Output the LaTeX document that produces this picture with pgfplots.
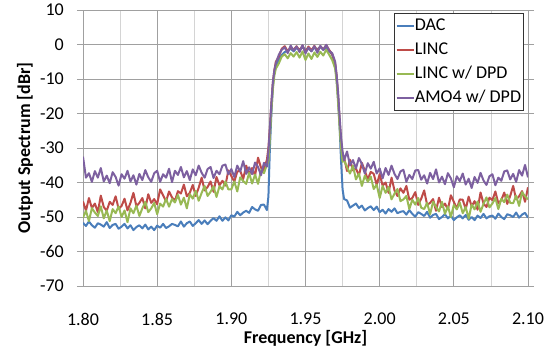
\documentclass[border=0pt]{standalone}
\usepackage{fontspec}
\setmainfont{Carlito}
\usepackage{pgfplots}
\pgfplotsset{compat=1.18}
\usepackage{pgfplotstable}
\definecolor{dacblue}{HTML}{4A7EBB}
\definecolor{lincred}{HTML}{BE4B48}
\definecolor{dpdgreen}{HTML}{98B954}
\definecolor{amopurple}{HTML}{7D60A0}
\definecolor{gridmaj}{HTML}{A0A0A0}
\definecolor{gridmin}{HTML}{D4D4D4}

\pgfplotstableread{
x dac linc dpd amo
1.800 -51.7 -45.5 -50.2 -32.5
1.802 -52.6 -48.2 -48.2 -38.6
1.804 -51.3 -44.5 -51.2 -37.3
1.806 -52.4 -47.4 -47.4 -39.8
1.808 -53.1 -46.1 -48.7 -36.7
1.810 -51.8 -48.6 -49.7 -38.6
1.812 -52.2 -43.8 -46.9 -35.8
1.814 -52.8 -47.1 -50.4 -39.7
1.816 -51.5 -48.2 -48.1 -38.0
1.818 -53.2 -45.6 -51.2 -40.2
1.820 -52.3 -46.5 -47.7 -37.0
1.822 -52.0 -44.0 -48.9 -38.4
1.824 -53.4 -47.6 -46.9 -40.9
1.826 -52.8 -46.8 -50.0 -37.6
1.828 -52.0 -44.7 -48.1 -38.9
1.830 -53.3 -48.1 -51.5 -36.6
1.832 -52.4 -45.9 -47.5 -39.7
1.834 -53.8 -43.0 -48.9 -37.9
1.836 -52.9 -46.9 -46.7 -40.6
1.838 -52.4 -45.9 -49.7 -37.5
1.840 -53.3 -44.5 -47.5 -39.3
1.842 -52.2 -47.5 -45.6 -36.4
1.844 -53.6 -43.4 -48.6 -38.5
1.846 -52.8 -45.9 -47.5 -39.8
1.848 -53.8 -44.8 -45.9 -37.3
1.850 -52.5 -46.3 -49.2 -36.6
1.852 -53.1 -42.0 -46.1 -39.8
1.854 -52.0 -43.7 -47.0 -37.6
1.856 -53.2 -45.5 -44.7 -38.6
1.858 -52.7 -42.6 -47.0 -36.0
1.860 -52.0 -44.3 -44.8 -39.9
1.862 -52.3 -45.3 -45.8 -36.6
1.864 -52.7 -42.5 -43.6 -37.8
1.866 -51.3 -43.2 -46.4 -35.5
1.868 -52.8 -40.6 -44.4 -38.5
1.870 -51.8 -44.0 -47.5 -36.7
1.872 -51.3 -43.0 -43.4 -39.3
1.874 -52.6 -40.7 -44.7 -36.2
1.876 -51.8 -43.9 -42.4 -37.9
1.878 -50.9 -41.5 -45.3 -35.1
1.880 -52.0 -38.6 -43.0 -37.2
1.882 -51.0 -42.3 -41.0 -38.6
1.884 -52.1 -41.3 -43.9 -36.1
1.886 -51.1 -39.7 -42.7 -35.5
1.888 -50.3 -42.7 -41.1 -38.7
1.890 -51.1 -38.4 -44.2 -36.6
1.892 -49.8 -40.8 -41.1 -37.6
1.894 -51.1 -39.5 -42.0 -35.1
1.896 -50.1 -40.9 -39.7 -34.8
1.898 -51.0 -36.5 -42.0 -37.6
1.900 -49.5 -38.1 -42.0 -36.1
1.902 -49.9 -39.8 -39.7 -38.4
1.904 -48.5 -36.8 -42.6 -35.1
1.906 -49.5 -36.6 -38.5 -36.8
1.908 -48.7 -39.0 -39.6 -33.8
1.910 -48.2 -35.1 -40.4 -37.5
1.912 -48.8 -37.6 -37.2 -35.6
1.914 -47.1 -35.8 -40.3 -37.6
1.916 -47.8 -38.0 -37.7 -34.2
1.918 -48.2 -32.8 -40.4 -35.5
1.920 -46.5 -35.7 -36.4 -37.9
1.922 -46.4 -36.4 -37.3 -34.3
1.924 -48.0 -33.4 -34.8 -35.4
1.925 -44.0 -30.0 -34.0 -31.0
1.926 -30.0 -24.0 -27.0 -24.0
1.927 -20.0 -17.0 -19.0 -17.0
1.928 -12.0 -11.0 -13.0 -11.0
1.929 -8.0 -7.5 -9.0 -7.5
1.930 -6.5 -5.0 -7.0 -5.5
1.932 -4.5 -3.5 -5.5 -3.0
1.934 -3.0 -1.2 -3.5 -1.5
1.936 -2.2 -0.5 -2.8 -0.8
1.938 -1.8 -2.0 -4.0 -2.5
1.940 -1.2 -0.8 -2.5 -0.3
1.942 -2.0 -1.5 -3.5 -1.8
1.944 -1.0 -0.5 -2.2 -0.6
1.946 -1.5 -1.8 -3.8 -2.2
1.948 -0.8 -0.3 -2.0 -0.2
1.950 -1.6 -2.2 -4.5 -2.6
1.952 -1.1 -0.6 -2.6 -0.9
1.954 -1.9 -1.7 -4.2 -2.0
1.956 -0.9 -0.4 -2.3 -0.5
1.958 -1.4 -1.9 -3.6 -2.4
1.960 -0.7 -0.5 -2.1 -0.4
1.962 -1.5 -1.4 -3.2 -1.6
1.964 -1.0 -0.2 -1.5 -0.1
1.966 -1.8 -1.6 -3.0 -1.9
1.968 -3.0 -2.8 -4.5 -2.5
1.970 -6.0 -5.5 -7.0 -5.0
1.971 -10.0 -9.0 -11.0 -9.0
1.972 -16.0 -15.0 -17.0 -14.0
1.973 -24.0 -22.0 -24.0 -21.0
1.974 -34.0 -28.0 -30.0 -27.0
1.975 -42.0 -33.0 -34.0 -31.0
1.976 -44.8 -32.7 -33.5 -33.6
1.978 -45.2 -36.7 -35.6 -31.0
1.980 -47.3 -33.4 -37.4 -35.0
1.982 -46.7 -36.5 -35.1 -33.5
1.984 -46.1 -35.9 -39.1 -35.9
1.986 -47.4 -38.0 -37.4 -32.9
1.988 -46.7 -34.3 -41.0 -34.6
1.990 -48.1 -36.6 -38.0 -37.4
1.992 -47.4 -39.1 -39.8 -34.4
1.994 -46.9 -36.9 -38.3 -36.0
1.996 -48.0 -37.5 -41.9 -34.0
1.998 -47.0 -40.7 -40.6 -37.4
2.000 -48.6 -37.6 -44.5 -35.9
2.002 -47.9 -40.9 -41.0 -38.8
2.004 -49.0 -40.0 -43.0 -35.8
2.006 -47.7 -43.0 -41.3 -37.8
2.008 -48.5 -38.6 -44.9 -35.1
2.010 -47.5 -42.3 -43.2 -37.5
2.012 -48.9 -43.9 -41.9 -39.0
2.014 -48.5 -41.7 -45.4 -36.8
2.016 -48.3 -43.0 -44.9 -36.3
2.018 -49.3 -41.0 -43.9 -39.8
2.020 -48.0 -45.0 -47.7 -37.8
2.022 -49.1 -44.5 -45.0 -39.0
2.024 -49.9 -42.8 -46.4 -36.5
2.026 -48.6 -46.5 -44.5 -36.4
2.028 -49.1 -44.7 -47.3 -39.2
2.030 -49.7 -42.3 -47.7 -37.9
2.032 -48.5 -46.5 -45.9 -40.3
2.034 -50.2 -45.9 -49.2 -37.2
2.036 -49.4 -44.8 -45.6 -39.0
2.038 -49.1 -48.2 -47.1 -36.2
2.040 -50.6 -44.4 -48.4 -40.0
2.042 -50.0 -47.1 -45.6 -38.3
2.044 -49.2 -46.1 -49.1 -40.5
2.046 -50.4 -47.8 -46.9 -37.3
2.048 -49.6 -43.7 -50.0 -38.8
2.050 -50.9 -45.6 -46.5 -41.4
2.052 -50.1 -47.6 -47.8 -38.2
2.054 -49.5 -44.9 -45.8 -39.6
2.056 -50.4 -45.0 -48.9 -37.4
2.058 -49.4 -47.7 -47.1 -40.6
2.060 -50.8 -44.1 -50.5 -38.9
2.062 -50.0 -46.9 -46.4 -41.6
2.064 -50.9 -45.4 -47.8 -38.4
2.066 -49.6 -47.9 -45.5 -40.1
2.068 -50.3 -42.9 -48.5 -37.2
2.070 -49.1 -46.1 -46.2 -39.4
2.072 -50.4 -47.1 -44.3 -40.7
2.074 -49.8 -44.4 -47.2 -38.2
2.076 -49.6 -45.1 -46.1 -37.6
2.078 -50.5 -42.6 -44.5 -40.8
2.080 -49.0 -46.0 -47.7 -38.6
2.082 -50.0 -45.1 -44.7 -39.5
2.084 -50.6 -42.9 -45.7 -36.8
2.086 -49.2 -46.2 -43.5 -36.5
2.088 -49.5 -43.9 -45.9 -39.1
2.090 -50.0 -41.0 -46.0 -37.5
2.092 -48.7 -44.9 -43.8 -39.8
2.094 -50.2 -44.0 -46.8 -36.4
2.096 -49.3 -42.5 -42.8 -38.0
2.098 -48.8 -45.6 -44.0 -34.9
2.100 -50.2 -41.4 -44.9 -38.5
}\spectrum

\begin{document}
\begin{tikzpicture}
\path[use as bounding box] (0bp,0bp) rectangle (557bp,351bp);
\begin{axis}[
  at={(83bp,65bp)}, anchor=south west,
  scale only axis, width=445bp, height=276bp,
  xmin=1.8, xmax=2.1, ymin=-70, ymax=10,
  xtick={1.8,1.85,1.9,1.95,2.0,2.05,2.1},
  xticklabels={1.80,1.85,1.90,1.95,2.00,2.05,2.10},
  minor xtick={1.825,1.875,1.925,1.975,2.025,2.075},
  ytick={-70,-60,-50,-40,-30,-20,-10,0,10},
  grid=both,
  major grid style={gridmaj, line width=0.8bp},
  minor grid style={gridmin, line width=0.8bp},
  axis line style={gridmaj, line width=0.8bp},
  xtick style={draw=none},
  minor tick length=0pt,
  ytick style={gridmaj, line width=0.8bp},
  tick align=outside, major tick length=6bp,
  ticklabel style={font=\fontsize{18bp}{21bp}\selectfont},
  /pgf/number format/assume math mode=true,
  xticklabel style={anchor=center, yshift=-27bp},
  yticklabel style={anchor=east, inner sep=0pt, xshift=-13bp},
  xlabel={\textbf{Frequency [GHz]}},
  ylabel={\textbf{Output Spectrum [dBr]}},
  label style={font=\fontsize{18bp}{21bp}\selectfont},
  xlabel style={at={(axis description cs:0.5,-0.1884)}, anchor=center},
  ylabel style={at={(axis description cs:-0.1303,0.5)}, anchor=center},
  legend style={at={(rel axis cs:0.991,0.989)}, anchor=north east,
    draw=black!80, line width=0.8bp, fill=white,
    font=\fontsize{18bp}{21bp}\selectfont,
    inner xsep=2bp, inner ysep=3.5bp, row sep=6bp,
    nodes={text height=13bp, text depth=4bp, inner sep=0.5bp}},
  legend cell align=left,
  legend image code/.code={\draw[#1, line width=1.2bp] (0bp,0bp) -- (17bp,0bp);},
  every axis plot/.append style={line width=2bp, line join=round},
]
\addplot[dacblue] table[x=x, y=dac]{\spectrum};
\addlegendentry{DAC}
\addplot[lincred] table[x=x, y=linc]{\spectrum};
\addlegendentry{LINC}
\addplot[dpdgreen] table[x=x, y=dpd]{\spectrum};
\addlegendentry{LINC w/ DPD}
\addplot[amopurple] table[x=x, y=amo]{\spectrum};
\addlegendentry{AMO4 w/ DPD}
\end{axis}
\end{tikzpicture}
\end{document}
